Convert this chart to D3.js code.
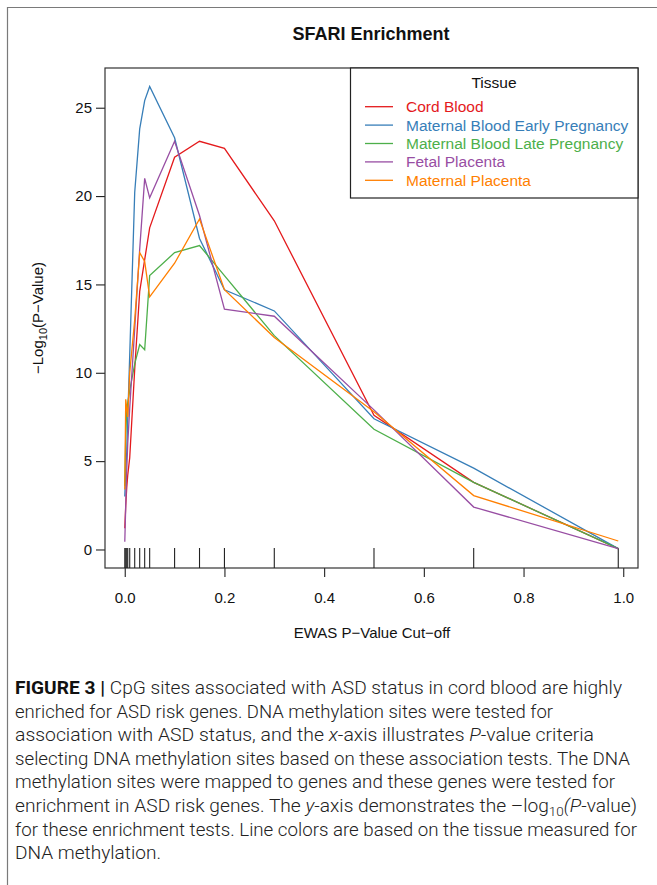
<!DOCTYPE html>
<html>
<head>
<meta charset="utf-8">
<script src="https://cdn.jsdelivr.net/npm/d3@7"></script>
<style>
  html, body { margin: 0; padding: 0; background: #fff; }
  svg { display: block; }
</style>
</head>
<body>
<svg id="chart" width="657" height="885"></svg>
<script>
// ---- data ----
const cutoffs        = [0.0001, 0.002, 0.004, 0.006, 0.01, 0.02, 0.03, 0.04, 0.05, 0.1, 0.15, 0.2, 0.3, 0.5, 0.7, 0.99];
const cordBlood      = [1.2, 2.5, 3.5, 4.2, 5.2, 10.2, 14.6, 16.4, 18.2, 22.2, 23.1, 22.7, 18.6, 7.6, 3.8, 0.05];
const matBloodEarly  = [3.0, 4.5, 5.5, 7.4, 11.0, 20.2, 23.8, 25.4, 26.2, 23.3, 17.6, 14.7, 13.5, 7.4, 4.6, 0.05];
const matBloodLate   = [3.6, 6.5, 7.8, 8.3, 9.0, 10.5, 11.6, 11.3, 15.5, 16.8, 17.2, 15.5, 12.1, 6.8, 3.8, 0.05];
const fetalPlacenta  = [0.44, 2.5, 4.5, 6.0, 8.0, 12.5, 17.0, 21.0, 19.9, 23.1, 18.9, 13.6, 13.2, 7.9, 2.4, 0.05];
const matPlacenta    = [3.4, 8.5, 8.0, 7.5, 10.0, 13.0, 16.8, 16.3, 14.3, 16.2, 18.7, 14.7, 12.0, 7.8, 3.05, 0.48];

const seriesNames  = ["Cord Blood", "Maternal Blood Early Pregnancy", "Maternal Blood Late Pregnancy", "Fetal Placenta", "Maternal Placenta"];
const seriesValues = [cordBlood, matBloodEarly, matBloodLate, fetalPlacenta, matPlacenta];
const seriesColors = ["#E41A1C", "#377EB8", "#4DAF4A", "#984EA3", "#FF7F00"];

const xTicks = [0, 0.2, 0.4, 0.6, 0.8, 1.0];
const yTicks = [0, 5, 10, 15, 20, 25];

const titleText  = "SFARI Enrichment";
const legendTitle = "Tissue";
const xLabel = "EWAS P\u2212Value Cut\u2212off";

// ---- layout ----
const svg = d3.select("#chart");
const box = { left: 105, right: 638, top: 68, bottom: 568 };
const font = "'Liberation Sans', Arial, Helvetica, sans-serif";

// outer frame
svg.append("path")
  .attr("d", "M7.5,885 L7.5,7.5 L657,7.5")
  .attr("fill", "none").attr("stroke", "#7a7a7a").attr("stroke-width", 1.2);

// scales (R-style 4% padding)
const xMax = d3.max(cutoffs);
const xPad = xMax * 0.04;
const x = d3.scaleLinear().domain([0 - xPad, xMax + xPad]).range([box.left, box.right]);
const yMax = d3.max(seriesValues.flat());
const yPad = yMax * 0.04;
const y = d3.scaleLinear().domain([0 - yPad, yMax + yPad]).range([box.bottom, box.top]);

// title
svg.append("text")
  .attr("x", 371).attr("y", 40)
  .attr("text-anchor", "middle")
  .attr("font-family", font).attr("font-weight", "bold").attr("font-size", 18)
  .attr("fill", "#111")
  .text(titleText);

// x axis
const xAxis = svg.append("g")
  .attr("transform", `translate(0,${box.bottom})`)
  .call(d3.axisBottom(x).tickValues(xTicks).tickSize(9).tickPadding(15).tickFormat(d3.format(".1f")));
xAxis.select(".domain").remove();
xAxis.selectAll("line").attr("stroke", "#222").attr("stroke-width", 1.1);
xAxis.selectAll("text").attr("font-family", font).attr("font-size", 15).attr("fill", "#111");

// y axis
const yAxis = svg.append("g")
  .attr("transform", `translate(${box.left},0)`)
  .call(d3.axisLeft(y).tickValues(yTicks).tickSize(9).tickPadding(4));
yAxis.select(".domain").remove();
yAxis.selectAll("line").attr("stroke", "#222").attr("stroke-width", 1.1);
yAxis.selectAll("text").attr("font-family", font).attr("font-size", 15).attr("fill", "#111");

// plot box
svg.append("rect")
  .attr("x", box.left).attr("y", box.top)
  .attr("width", box.right - box.left).attr("height", box.bottom - box.top)
  .attr("fill", "none").attr("stroke", "#333").attr("stroke-width", 1.2);

// rug
svg.append("g").selectAll("line").data(cutoffs).join("line")
  .attr("x1", d => x(d)).attr("x2", d => x(d))
  .attr("y1", box.bottom).attr("y2", box.bottom - 20)
  .attr("stroke", "#222").attr("stroke-width", 1.1);

// lines
const line = d3.line().x(d => x(d[0])).y(d => y(d[1]));
svg.append("g").selectAll("path").data(seriesValues).join("path")
  .attr("d", vals => line(cutoffs.map((c, i) => [c, vals[i]])))
  .attr("fill", "none")
  .attr("stroke", (d, i) => seriesColors[i])
  .attr("stroke-width", 1.3)
  .attr("stroke-linejoin", "miter");

// axis labels
svg.append("text")
  .attr("x", 372).attr("y", 638)
  .attr("text-anchor", "middle")
  .attr("font-family", font).attr("font-size", 15).attr("fill", "#111")
  .text(xLabel);

const yl = svg.append("text")
  .attr("transform", "translate(43,318) rotate(-90)")
  .attr("text-anchor", "middle")
  .attr("font-family", font).attr("font-size", 15).attr("fill", "#111");
yl.append("tspan").text("\u2212Log");
yl.append("tspan").attr("font-size", 11).attr("dy", 4).text("10");
yl.append("tspan").attr("dy", -4).text("(P\u2212Value)");

// legend
const lg = svg.append("g");
lg.append("rect")
  .attr("x", 350.5).attr("y", box.top).attr("width", box.right - 350.5).attr("height", 130)
  .attr("fill", "#fff").attr("stroke", "#222").attr("stroke-width", 1.2);
lg.append("text")
  .attr("x", 494).attr("y", 88).attr("text-anchor", "middle")
  .attr("font-family", font).attr("font-size", 15.5).attr("fill", "#111")
  .text(legendTitle);
const rows = lg.selectAll("g.row").data(seriesNames).join("g")
  .attr("transform", (d, i) => `translate(0,${106.7 + i * 18.4})`);
rows.append("line")
  .attr("x1", 365).attr("x2", 393).attr("y1", 0).attr("y2", 0)
  .attr("stroke", (d, i) => seriesColors[i]).attr("stroke-width", 1.3);
rows.append("text")
  .attr("x", 406).attr("y", 5.5)
  .attr("font-family", font).attr("font-size", 15.5)
  .attr("fill", (d, i) => seriesColors[i])
  .text(d => d);

// caption
const capFont = "Roboto, 'Noto Sans', sans-serif";
const capLines = [
  [["b", "FIGURE 3 | "], ["n", "CpG sites associated with ASD status in cord blood are highly"]],
  [["n", "enriched for ASD risk genes. DNA methylation sites were tested for"]],
  [["n", "association with ASD status, and the "], ["i", "x"], ["n", "-axis illustrates "], ["i", "P"], ["n", "-value criteria"]],
  [["n", "selecting DNA methylation sites based on these association tests. The DNA"]],
  [["n", "methylation sites were mapped to genes and these genes were tested for"]],
  [["n", "enrichment in ASD risk genes. The "], ["i", "y"], ["n", "-axis demonstrates the \u2013log"], ["sub", "10"], ["i", "(P"], ["n", "-value)"]],
  [["n", "for these enrichment tests. Line colors are based on the tissue measured for"]],
  [["n", "DNA methylation."]]
];
const capWidths = [607, 538, 579, 615, 600, 622, 622, 146];
capLines.forEach((parts, li) => {
  const t = svg.append("text")
    .attr("x", 15).attr("y", 694 + li * 23.6)
    .attr("font-family", capFont).attr("font-size", 18.5).attr("font-weight", 300)
    .attr("fill", "#222")
    .attr("textLength", capWidths[li])
    .attr("lengthAdjust", "spacingAndGlyphs");
  let shifted = false;
  parts.forEach(([k, s]) => {
    const ts = t.append("tspan").text(s);
    if (k === "b") ts.attr("font-weight", 700).attr("fill", "#111");
    if (k === "i") ts.attr("font-style", "italic");
    if (k === "sub") { ts.attr("font-size", 13).attr("dy", 4); shifted = true; }
    else if (shifted) { ts.attr("dy", -4); shifted = false; }
  });
});
</script>
</body>
</html>
